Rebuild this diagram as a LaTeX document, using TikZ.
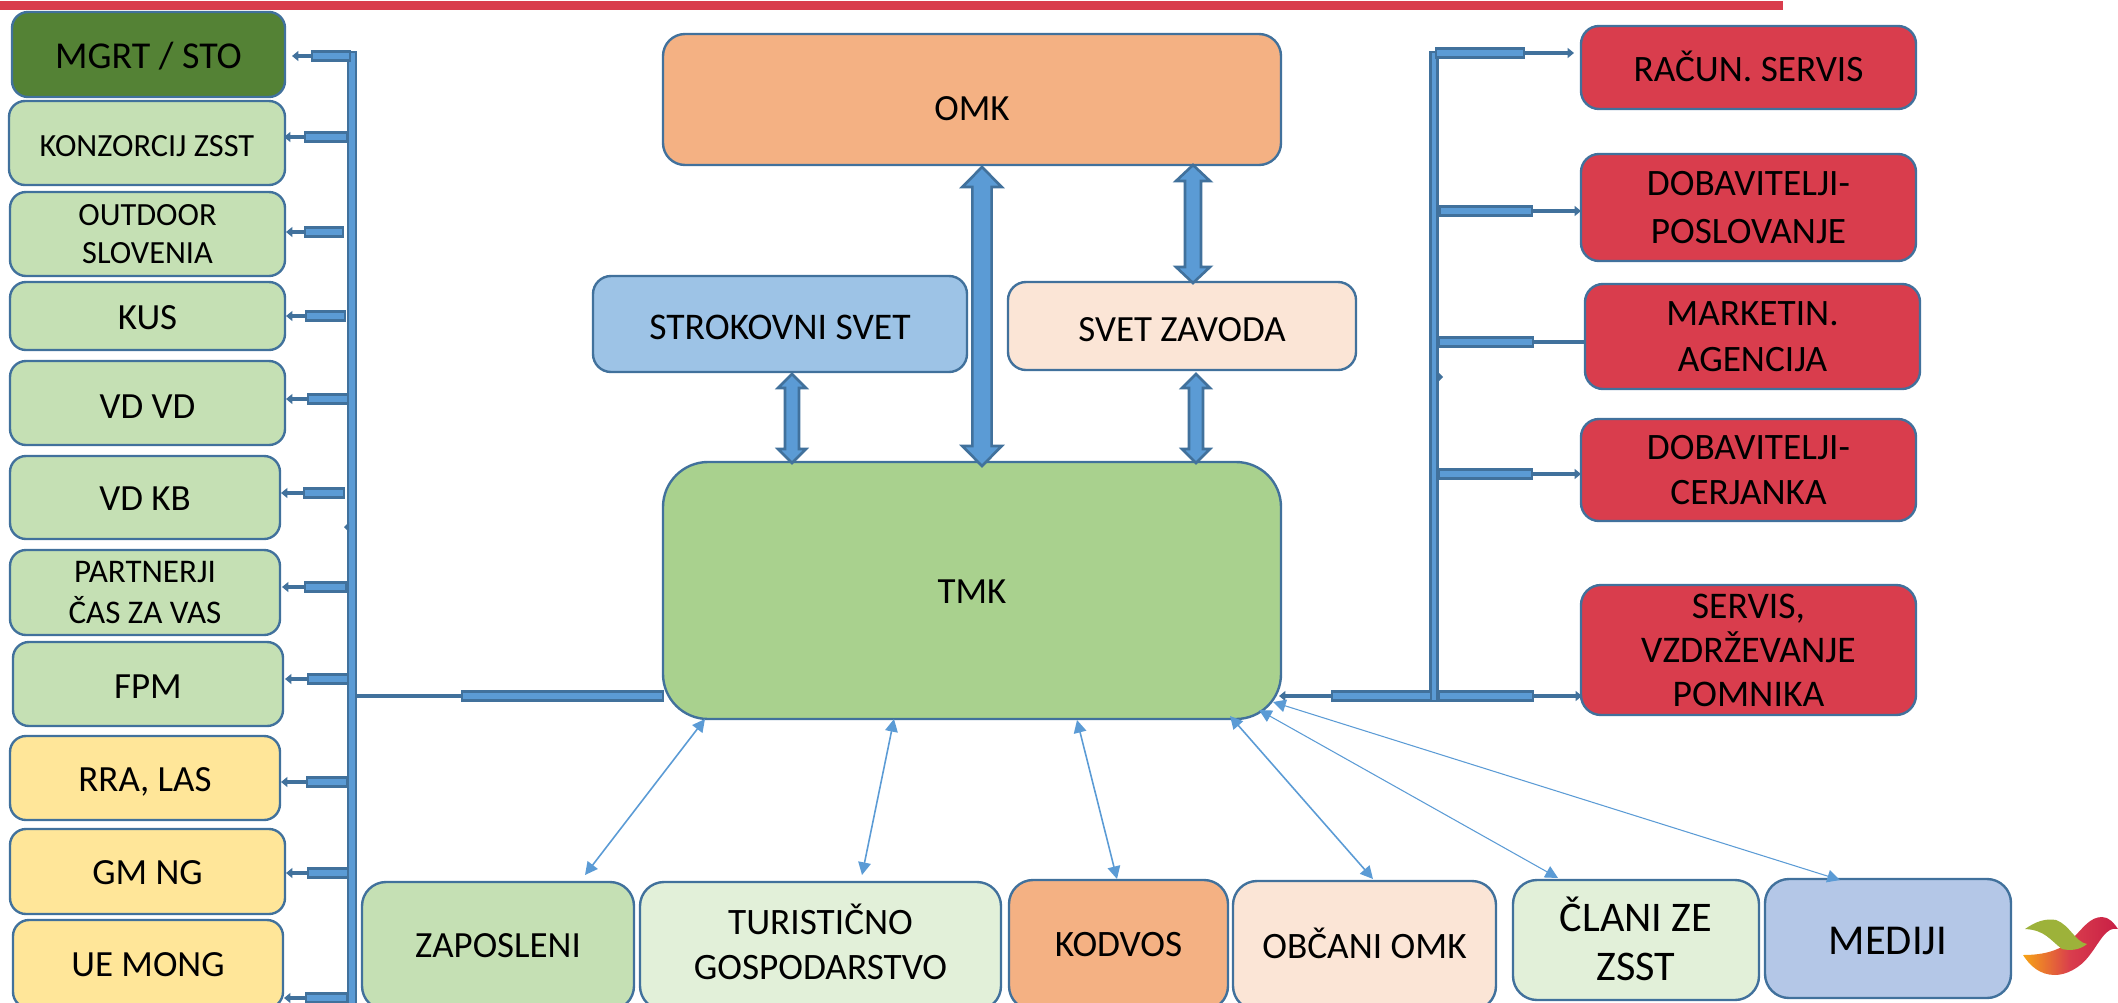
\documentclass[tikz,border=0pt]{standalone}
\usepackage{fontspec}
\setmainfont{Carlito}
\usetikzlibrary{calc,arrows.meta}
\definecolor{edgeblue}{HTML}{41719C}
\definecolor{fillblue}{HTML}{5B9BD5}
\definecolor{cdark}{HTML}{548235}
\definecolor{clight}{HTML}{C5E0B4}
\definecolor{cyellow}{HTML}{FFE699}
\definecolor{corange}{HTML}{F4B183}
\definecolor{ctmk}{HTML}{A9D18E}
\definecolor{cstrok}{HTML}{9DC3E6}
\definecolor{cpeach}{HTML}{FBE5D6}
\definecolor{cred}{HTML}{D93D4D}
\definecolor{cpale}{HTML}{E2F0D9}
\definecolor{cmedia}{HTML}{B4C7E7}
\definecolor{lgreen}{HTML}{9DB23A}
\definecolor{lorange}{HTML}{F7A416}
\definecolor{lcrimson}{HTML}{C81E45}
\tikzset{
  x=0.01cm,y=-0.01cm,
  boxstyle/.style={draw=edgeblue,line width=0.68pt,inner sep=0pt,outer sep=0pt,align=center,text=black},
  barstyle/.style={draw=edgeblue,fill=fillblue,line width=0.75pt},
  tailstyle/.style={draw=edgeblue,line width=1.2pt},
  tailarrow/.style={tailstyle,-{Triangle[length=1.8pt,width=2.8pt]}},
  twoway/.style={draw=fillblue,line width=0.45pt,{Triangle[length=3.6pt,width=3.6pt]}-{Triangle[length=3.6pt,width=3.6pt]}},
  twowaythin/.style={twoway,line width=0.3pt},
}
% name x1 y1 x2 y2 radius fill {size}{leading} dy(px)
\newcommand\bx[9]{%
  \node[boxstyle,rounded corners=#6*0.01cm,fill=#7,
        minimum width={(#4-#2)*0.01cm},minimum height={(#5-#3)*0.01cm},
        font=\fontsize#8\selectfont,
        execute at begin node={\rule{0pt}{\dimexpr 1.38ex + #9\dimexpr 0.569pt\relax\relax}}]
        (#1) at ({(#2+#4)/2},{(#3+#5)/2}) }
% invisible depth, lifts the text of a box by half its value
\newcommand\liftby[1]{\rule[-#1]{0pt}{0pt}}
% left branch: box tipx barL barR y
\newcommand\lbranch[5]{%
  \coordinate (#1tip) at (#2,#5);
  \coordinate (#1bar) at (#3,#5);
  \draw[tailarrow] (#1bar) -- (#1tip);
  \draw[barstyle] ($(#1bar)+(0,-4.5)$) rectangle ($(#4,#5)+(0,4.5)$);}
% right branch: box tipx barL barR y
\newcommand\rbranch[5]{%
  \coordinate (#1tip) at (#2,#5);
  \coordinate (#1bar) at (#4,#5);
  \draw[tailarrow] (#1bar) -- (#1tip);
  \draw[barstyle] ($(#3,#5)+(0,-4.5)$) rectangle ($(#1bar)+(0,4.5)$);}
% block arrow: top bottom headhalf shafthalf headlen
\newcommand\blockarrow[5]{%
  \draw[barstyle] (#1) -- ($(#1)+(#3,#5)$) -- ($(#1)+(#4,#5)$) -- ($(#2)+(#4,-#5)$) -- ($(#2)+(#3,-#5)$)
   -- (#2) -- ($(#2)+(-#3,-#5)$) -- ($(#2)+(-#4,-#5)$) -- ($(#1)+(-#4,#5)$) -- ($(#1)+(-#3,#5)$) -- cycle;}
\begin{document}
\begin{tikzpicture}
\useasboundingbox (0,0) rectangle (2118,1003);
\clip (0,0) rectangle (2118,1003);
\fill[cred] (0,1) rectangle (1783,10);

% left column
\bx{mgrt}{12}{12}{285}{97}{16}{cdark}{{10.8pt}{13pt}}{2}{MGRT / STO};
\bx{konz}{9}{101}{285}{185}{16}{clight}{{9.2pt}{11pt}}{3}{KONZORCIJ ZSST};
\bx{outd}{10}{192}{285}{276}{16}{clight}{{9.2pt}{10.8pt}}{4}{OUTDOOR\\SLOVENIA};
\bx{kus}{10}{282}{285}{350}{16}{clight}{{10.5pt}{12pt}}{1}{KUS};
\bx{vdvd}{10}{361}{285}{445}{16}{clight}{{10.5pt}{12pt}}{3}{VD VD};
\bx{vdkb}{10}{456}{280}{539}{16}{clight}{{10.5pt}{12pt}}{1}{VD KB};
\bx{part}{10}{550}{280}{635}{16}{clight}{{9.4pt}{11.5pt}}{3}{PARTNERJI\\ČAS ZA VAS};
\bx{fpm}{13}{642}{283}{726}{16}{clight}{{10.5pt}{12pt}}{2}{FPM};
\bx{rra}{10}{736}{280}{820}{16}{cyellow}{{10.5pt}{12pt}}{4}{RRA, LAS};
\bx{gmng}{10}{829}{285}{914}{16}{cyellow}{{10.5pt}{12pt}}{1}{GM NG};
\bx{uemo}{13}{920}{283}{1008}{16}{cyellow}{{10.5pt}{12pt}}{0}{UE MONG};

% centre
\bx{omk}{663}{34}{1281}{165}{22}{corange}{{10.5pt}{12pt}}{9}{OMK};
\bx{strok}{593}{276}{967}{372}{18}{cstrok}{{10.7pt}{12pt}}{3}{STROKOVNI SVET};
\bx{svet}{1008}{282}{1356}{370}{18}{cpeach}{{10.5pt}{12pt}}{3.5}{SVET ZAVODA};
\bx{tmk}{663}{462}{1281}{719}{45}{ctmk}{{10.5pt}{12pt}}{0.5}{TMK};

% right column
\bx{racun}{1581}{26}{1916}{109}{18}{cred}{{10.6pt}{12pt}}{2}{RAČUN. SERVIS\liftby{0.6pt}};
\bx{dobp}{1581}{154}{1916}{261}{18}{cred}{{10.6pt}{13.5pt}}{0}{DOBAVITELJI-\\POSLOVANJE};
\bx{mark}{1585}{284}{1920}{389}{18}{cred}{{10.6pt}{13pt}}{1.5}{MARKETIN.\\AGENCIJA};
\bx{dobc}{1581}{419}{1916}{521}{18}{cred}{{10.6pt}{12.8pt}}{5}{DOBAVITELJI-\\CERJANKA};
\bx{serv}{1581}{585}{1916}{715}{20}{cred}{{10.7pt}{12.5pt}}{4}{SERVIS,\\VZDRŽEVANJE\\POMNIKA};

% bottom row
\bx{zap}{362}{882}{634}{1010}{24}{clight}{{10.5pt}{12pt}}{-1}{ZAPOSLENI};
\bx{tur}{640}{882}{1001}{1010}{24}{cpale}{{10.6pt}{12.7pt}}{-5}{TURISTIČNO\\GOSPODARSTVO\liftby{2.3pt}};
\bx{kod}{1009}{880}{1228}{1010}{24}{corange}{{10.6pt}{12pt}}{-3}{KODVOS};
\bx{obc}{1233}{881}{1496}{1010}{24}{cpeach}{{10.6pt}{12pt}}{-2}{OBČANI OMK\liftby{1.1pt}};
\bx{clan}{1513}{880}{1759}{1000}{24}{cpale}{{12pt}{14pt}}{0}{ČLANI ZE\\ZSST\liftby{0.9pt}};
\bx{medi}{1765}{879}{2011}{998}{24}{cmedia}{{12.1pt}{14pt}}{2}{MEDIJI};

% left bus
\coordinate (lbusT) at (352,52);
\coordinate (lbusB) at (352,1010);
\draw[barstyle] ($(lbusT)+(-4,0)$) rectangle ($(lbusB)+(4,0)$);
\lbranch{mgrt}{292}{312}{350}{56}
\lbranch{konz}{284}{305}{347}{137}
\lbranch{outd}{286}{305}{343}{232}
\lbranch{kus}{286}{306}{345}{316}
\lbranch{vdvd}{286}{308}{348}{399}
\lbranch{vdkb}{281}{304}{344}{493}
\lbranch{part}{282}{305}{346}{587}
\lbranch{fpm}{285}{308}{348}{679}
\lbranch{rra}{281}{307}{347}{782}
\lbranch{gmng}{286}{308}{348}{873}
\lbranch{uemo}{284}{306}{347}{998}
\fill[edgeblue] (344,527) -- (349,522) -- (349,532) -- cycle;

% TMK to left bus
\coordinate (tmkL) at (tmk.west |- 0,696);
\coordinate (lbusJ) at (356,696);
\draw[tailstyle] (lbusJ) -- (462,696);
\draw[barstyle] (462,691.5) rectangle (tmkL |- 0,700.5);

% right bus
\coordinate (rbusT) at (1434,52);
\coordinate (rbusB) at (1434,701);
\draw[barstyle] ($(rbusT)+(-3.5,0)$) rectangle ($(rbusB)+(3.5,0)$);
\rbranch{racun}{1574}{1436}{1524}{53}
\rbranch{dobp}{1581}{1440}{1532}{211}
\draw[tailstyle] (1533,342) -- (mark.west |- 0,342);
\draw[barstyle] (1439,337.5) rectangle (1533,346.5);
\rbranch{dobc}{1581}{1439}{1532}{474}
\rbranch{serv}{1582}{1439}{1533}{696}
\fill[edgeblue] (1443,377) -- (1438,372) -- (1438,382) -- cycle;
\coordinate (tmkRtip) at (1279,696);
\draw[tailarrow] (1332,696) -- (tmkRtip);
\draw[barstyle] (1332,691.5) rectangle (1431,700.5);

% block arrows
\coordinate (a1t) at (982,167);
\coordinate (a1b) at (982,466);
\blockarrow{a1t}{a1b}{19.7}{9.6}{20}
\coordinate (a2t) at (1193,165);
\coordinate (a2b) at (1193,283);
\blockarrow{a2t}{a2b}{17}{8}{16}
\coordinate (a3t) at (792,374);
\coordinate (a3b) at (792,463);
\blockarrow{a3t}{a3b}{14}{7}{14}
\coordinate (a4t) at (1196,374);
\coordinate (a4b) at (1196,463);
\blockarrow{a4t}{a4b}{14}{7}{14}

% two-way arrows
\coordinate (t1a) at (705,719);\coordinate (t1b) at (585,875);
\coordinate (t2a) at (894,719);\coordinate (t2b) at (862,875);
\coordinate (t3a) at (1077,720);\coordinate (t3b) at (1117,879);
\coordinate (t4a) at (1230,716);\coordinate (t4b) at (1373,879);
\coordinate (t5a) at (1259,710);\coordinate (t5b) at (1558,878);
\coordinate (t6a) at (1273,702);\coordinate (t6b) at (1840,880);
\draw[twoway] (t1a) -- (t1b);
\draw[twoway] (t2a) -- (t2b);
\draw[twoway] (t3a) -- (t3b);
\draw[twoway] (t4a) -- (t4b);
\draw[twowaythin] (t5a) -- (t5b);
\draw[twowaythin] (t6a) -- (t6b);

% logo
\shade[left color=lorange,right color=lcrimson,middle color=cred]
  (2023,955) .. controls (2045,955) and (2062,950) .. (2073,938)
  .. controls (2083,928) and (2090,917) .. (2102,917)
  .. controls (2109,917) and (2114,923) .. (2118,929)
  .. controls (2106,926) and (2100,942) .. (2089,956)
  .. controls (2080,968) and (2066,975) .. (2055,975)
  .. controls (2040,975) and (2030,966) .. (2023,955) -- cycle;
\fill[lgreen]
  (2025,929) .. controls (2035,922) and (2045,918) .. (2056,920)
  .. controls (2070,925) and (2075,942) .. (2087,944)
  .. controls (2080,950) and (2070,951) .. (2062,949)
  .. controls (2050,940) and (2045,930) .. (2025,929) -- cycle;
\end{tikzpicture}
\end{document}
